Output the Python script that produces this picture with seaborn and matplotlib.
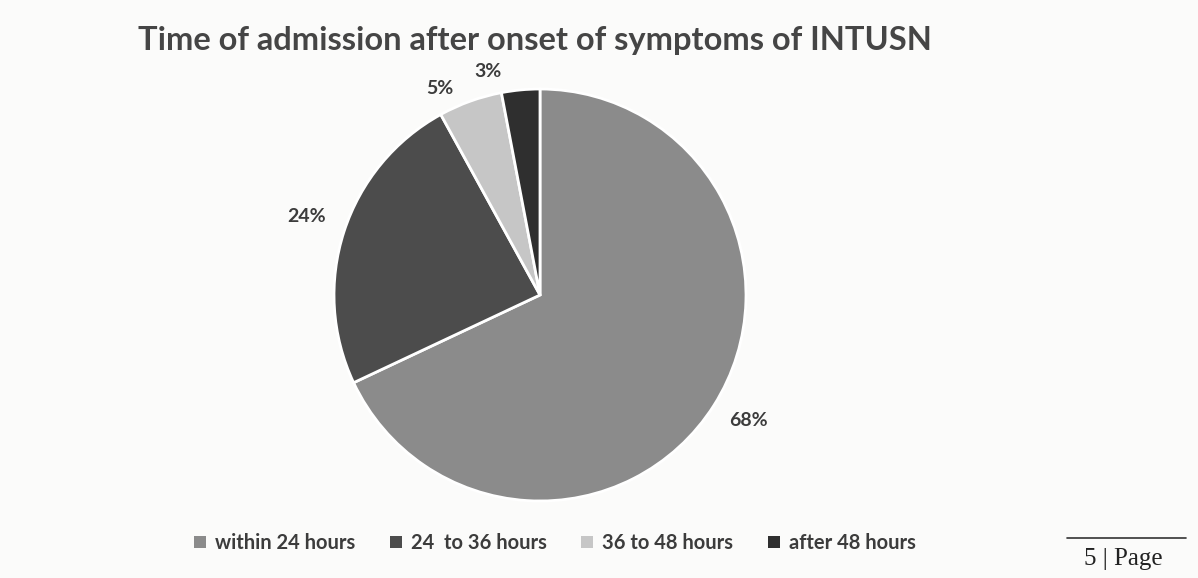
import numpy as np
import matplotlib
matplotlib.use("Agg")
import matplotlib.pyplot as plt
import seaborn as sns
from matplotlib.patches import Patch

# data
categories = ["within 24 hours", "24  to 36 hours", "36 to 48 hours", "after 48 hours"]
shares = [68, 24, 5, 3]
greys = ["#8b8b8b", "#4c4c4c", "#c6c6c6", "#2f2f2f"]
title = "Time of admission after onset of symptoms of INTUSN"

# small shifts of the percent labels (Excel moves them off the thin slices)
label_nudge = [(0.05, 0.0), (-0.05, 0.03), (-0.10, -0.07), (-0.145, -0.05)]

sns.set_theme(style="white")
plt.rcParams["font.family"] = ["Lato", "DejaVu Sans"]

W, H = 1198, 578
fig = plt.figure(figsize=(W / 100, H / 100), dpi=100)
fig.patch.set_facecolor("#fbfbfa")

# pie centre and radius in pixels
cx, cy, r = 540, 295, 206
half = 1.25 * r
ax = fig.add_axes([(cx - half) / W, (H - cy - half) / H, 2 * half / W, 2 * half / H])

pal = sns.color_palette(greys)
wedges, texts, autotexts = ax.pie(
    shares,
    colors=pal,
    startangle=90,
    counterclock=False,
    autopct="%d%%",
    pctdistance=1.14,
    wedgeprops=dict(edgecolor="white", linewidth=2),
    textprops=dict(fontsize=14, fontweight="bold", color="#3c3c3c"),
)
for t, (dx, dy) in zip(autotexts, label_nudge):
    x, y = t.get_position()
    t.set_position((x + dx, y + dy))
ax.set_xlim(-1.25, 1.25)
ax.set_ylim(-1.25, 1.25)
ax.set_axis_off()

fig.text(535 / W, 1 - 50 / H, title, ha="center", va="baseline",
         fontsize=23.5, fontweight="bold", color="#454545")

handles = [Patch(facecolor=c, edgecolor="none") for c in pal]
fig.legend(handles, categories, loc="center", bbox_to_anchor=(555 / W, 1 - 543 / H),
           ncol=4, frameon=False, handlelength=0.6, handleheight=0.6,
           handletextpad=0.45, columnspacing=1.7,
           prop=dict(size=14.5, weight="bold"), labelcolor="#3c3c3c")

# page footer of the scanned document
fig.add_artist(plt.Line2D([1067 / W, 1186 / W], [1 - 538 / H, 1 - 538 / H],
                          color="#333333", lw=1.2))
fig.text(1123 / W, 1 - 565 / H, "5 | Page", ha="center", va="baseline",
         fontsize=18, family=["Liberation Serif"], color="#222222")

fig.savefig("out.png", dpi=100, facecolor=fig.get_facecolor())
